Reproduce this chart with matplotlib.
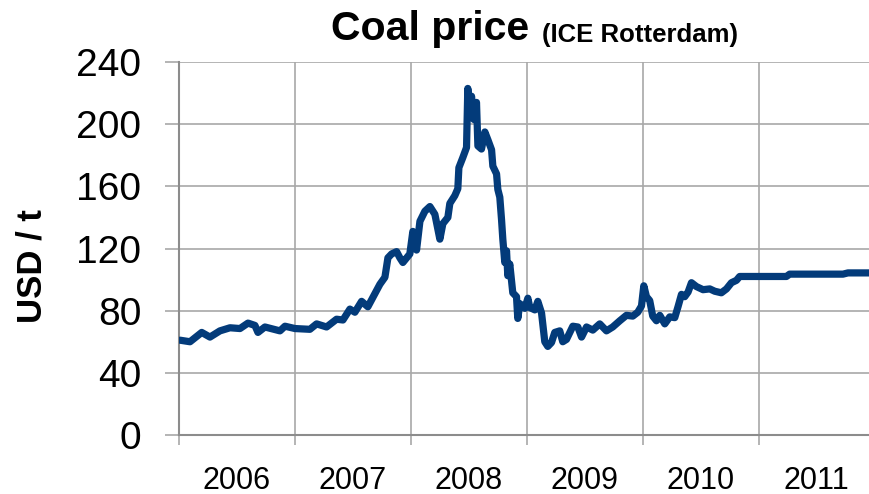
import matplotlib
matplotlib.use("Agg")
import matplotlib.pyplot as plt
from matplotlib import font_manager as fm

# ---- data (decimal years, USD/t) ----
years = [2006.009, 2006.095, 2006.196, 2006.267, 2006.353, 2006.440, 2006.526, 2006.595,
         2006.655, 2006.681, 2006.741, 2006.871, 2006.914, 2007.000, 2007.129, 2007.187,
         2007.273, 2007.359, 2007.414, 2007.474, 2007.517, 2007.575, 2007.629, 2007.672,
         2007.733, 2007.776, 2007.802, 2007.834, 2007.877, 2007.905, 2007.931, 2007.991,
         2008.017, 2008.049, 2008.078, 2008.121, 2008.164, 2008.207, 2008.250, 2008.276,
         2008.319, 2008.336, 2008.379, 2008.405, 2008.414, 2008.448, 2008.480, 2008.491,
         2008.509, 2008.523, 2008.543, 2008.566, 2008.578, 2008.609, 2008.638, 2008.664,
         2008.696, 2008.707, 2008.739, 2008.750, 2008.767, 2008.782, 2008.793, 2008.810,
         2008.825, 2008.836, 2008.853, 2008.879, 2008.911, 2008.922, 2008.940, 2008.983,
         2009.009, 2009.026, 2009.069, 2009.095, 2009.127, 2009.155, 2009.181, 2009.213,
         2009.241, 2009.284, 2009.310, 2009.342, 2009.397, 2009.440, 2009.472, 2009.515,
         2009.569, 2009.629, 2009.687, 2009.741, 2009.802, 2009.859, 2009.914, 2009.957,
         2009.989, 2010.009, 2010.032, 2010.060, 2010.086, 2010.118, 2010.147, 2010.190,
         2010.233, 2010.276, 2010.304, 2010.334, 2010.362, 2010.391, 2010.420, 2010.463,
         2010.520, 2010.578, 2010.621, 2010.678, 2010.722, 2010.765, 2010.808, 2010.836,
         2011.239, 2011.267, 2011.727, 2011.770, 2011.957]
prices = [61, 60, 66, 63, 67, 69, 68.5, 72,
          70.5, 66, 69.5, 67, 70, 68.5, 68, 71.5,
          69.5, 74.5, 74, 81, 79, 86, 82.5, 88.5,
          97, 101.5, 114, 116.5, 118, 114, 111, 116.5,
          131, 119, 137.5, 144, 147, 142, 126, 136,
          140, 149, 154, 158.5, 172, 178.5, 185, 223,
          205, 218, 203, 214, 186, 184, 195, 190,
          183.5, 173, 168, 158, 153, 138.5, 126, 111,
          118.5, 102.5, 110, 91.5, 89, 75, 84.5, 81.5,
          88, 82, 80.5, 86, 78.5, 60, 57, 59.5,
          66, 67, 60, 61.5, 70, 69.5, 63, 69.5,
          67.5, 71.5, 67, 69.5, 73.5, 77, 76.5, 79,
          83, 96, 89, 86.5, 76.5, 73.5, 77, 71.5,
          76, 75.5, 82.5, 90.5, 89, 92, 98, 95.5,
          93.5, 94, 92.5, 91.5, 94, 98, 99.5, 102,
          102, 103.5, 103.5, 104.3, 104.3]
year_labels = ["2006", "2007", "2008", "2009", "2010", "2011"]
y_ticks = [0, 40, 80, 120, 160, 200, 240]

# ---- fonts ----
avail = {f.name for f in fm.fontManager.ttflist}
base_font = "Liberation Sans" if "Liberation Sans" in avail else "DejaVu Sans"
plt.rcParams["font.family"] = base_font

fig = plt.figure(figsize=(8.70, 4.94), dpi=100)
ax = fig.add_axes([179/870, 1 - 435/494, 1 - 179/870, (435 - 62)/494])

ax.plot(years, prices, color="#033B7A", lw=5.2, solid_joinstyle="round",
        solid_capstyle="round", zorder=3)

ax.set_xlim(2006, 2011.96)
ax.set_ylim(0, 240)

grid_c = "#a8a8a8"
year_starts = [2006 + i for i in range(len(year_labels))]
ax.set_xticks(year_starts)
ax.set_xticklabels([])
ax.set_xticks([y + 0.5 for y in year_starts], minor=True)
ax.set_xticklabels(year_labels, minor=True, fontsize=22)
ax.tick_params(axis="x", which="major", length=7, width=1.2, color=grid_c, direction="out")
ax.tick_params(axis="x", which="minor", length=0, pad=22)
ax.set_yticks(y_ticks)
ax.set_yticklabels([str(v) for v in y_ticks], fontsize=28)
ax.tick_params(axis="y", length=10, width=1.2, color=grid_c, pad=17)

ax.grid(True, which="major", color=grid_c, lw=1.2)
ax.set_axisbelow(True)
for s in ["top", "right"]:
    ax.spines[s].set_visible(False)
for s in ["left", "bottom"]:
    ax.spines[s].set_color("#8c8c8c")
    ax.spines[s].set_linewidth(1.5)

fig.text(32/870, 1 - 266/494, "USD / t", rotation=90, ha="center", va="center",
         fontsize=25, fontweight="bold")
fig.text(529/870, 1 - 40/494, "Coal price", ha="right", va="baseline",
         fontsize=29.5, fontweight="bold")
fig.text(542/870, 1 - 42/494, "(ICE Rotterdam)", ha="left", va="baseline",
         fontsize=18.5, fontweight="bold")

fig.savefig("out.png", dpi=100)
